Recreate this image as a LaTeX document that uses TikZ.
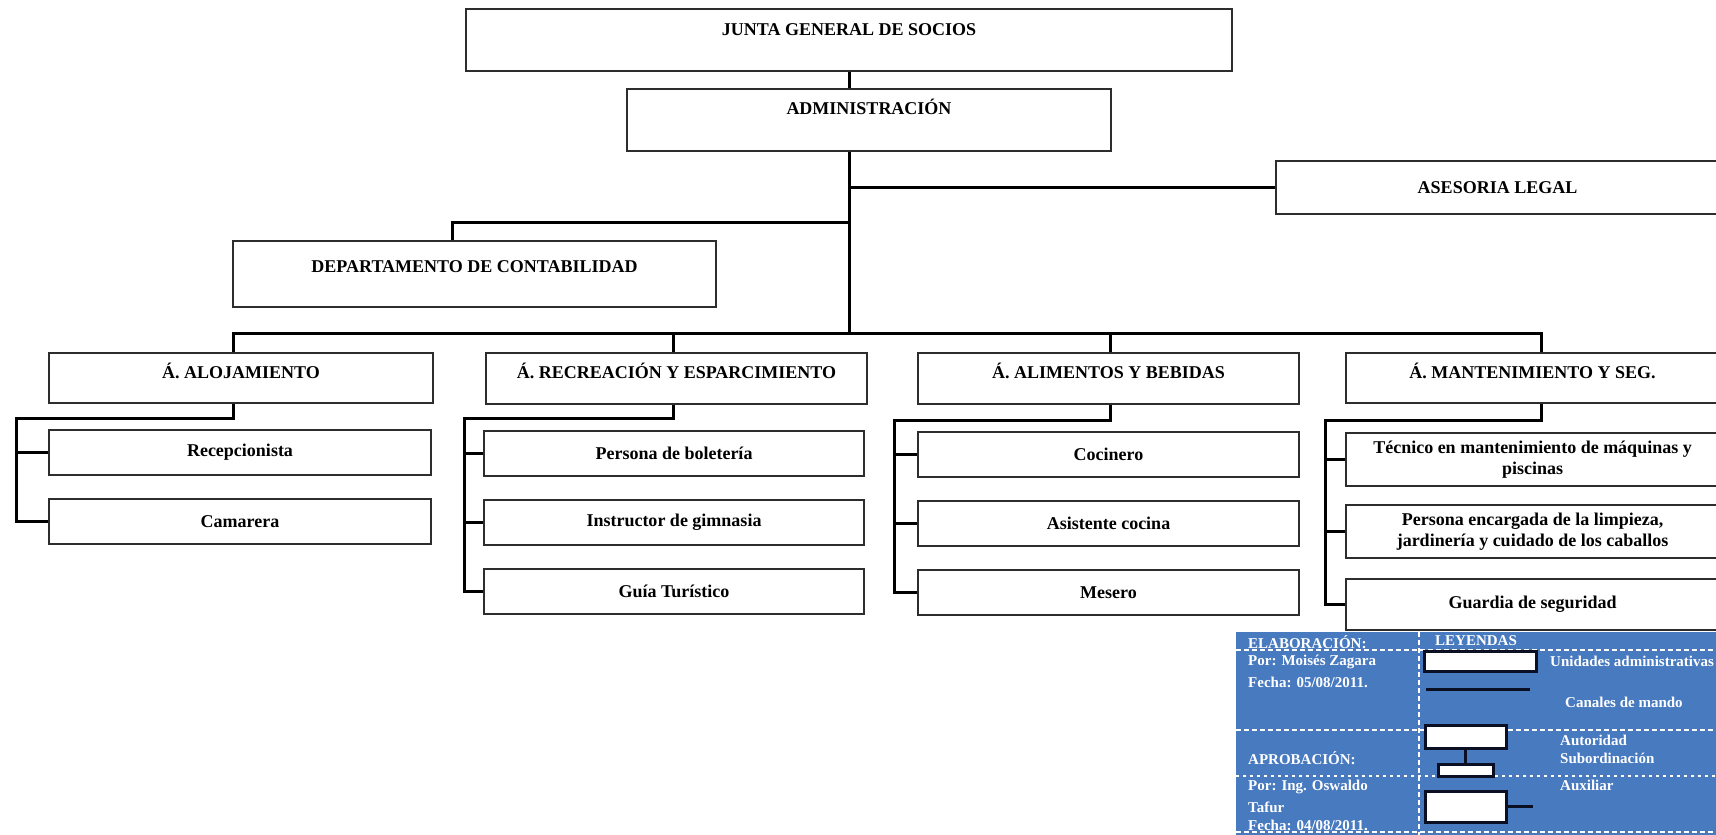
\documentclass[tikz,border=0pt]{standalone}
\usepackage{fontspec}
\setmainfont{Liberation Serif}
\usepackage{tikz}
\usetikzlibrary{positioning, calc}
\definecolor{boxline}{RGB}{45,45,45}
\definecolor{legblue}{RGB}{72,122,192}
\definecolor{legline}{RGB}{10,15,35}
\tikzset{
  box/.style={rectangle, draw=boxline, fill=white, line width=2pt,
    inner xsep=4pt, align=center, font=\fontsize{18}{21}\selectfont\bfseries},
  titlebox/.style={box, anchor=north west, inner ysep=0pt, text height=25pt},
  subbox/.style={box, minimum height=45pt},
  link/.style={line width=3pt, color=black},
  legtext/.style={anchor=west, inner sep=0pt, text=white,
    font=\fontsize{15}{17}\selectfont\bfseries},
  legbox/.style={rectangle, draw=legline, fill=white, line width=2.5pt,
    anchor=north west, inner sep=0pt},
  legdash/.style={white, line width=1.5pt, dash pattern=on 5pt off 3pt}
}

\begin{document}
\begin{tikzpicture}[x=1pt, y=-1pt]
  \useasboundingbox (0,0) rectangle (1716,835);

  % Top of the chart
  \node[titlebox, minimum width=766pt, text height=26pt, text depth=36pt] (junta) at (465,8) {JUNTA GENERAL DE SOCIOS};
  \node[titlebox, minimum width=484pt, text depth=37pt] (admin) at (626,88) {ADMINISTRACIÓN};
  \node[titlebox, minimum width=443pt, text height=32pt, text depth=21pt] (asesoria) at (1275,160) {ASESORIA LEGAL};
  \node[titlebox, minimum width=483pt, text height=31pt, text depth=35pt] (contab) at (232,240) {DEPARTAMENTO DE CONTABILIDAD};

  % Areas
  \node[titlebox, minimum width=384pt, text depth=25pt] (aloj) at (48,352) {Á. ALOJAMIENTO};
  \node[titlebox, minimum width=381pt, text depth=26pt] (recre) at (485,352) {Á. RECREACIÓN Y ESPARCIMIENTO};
  \node[titlebox, minimum width=381pt, text depth=26pt] (alim) at (917,352) {Á. ALIMENTOS Y BEBIDAS};
  \node[titlebox, minimum width=373pt, text depth=25pt] (mant) at (1345,352) {Á. MANTENIMIENTO Y SEG.};

  % Staff
  \node[subbox, anchor=north west, minimum width=382pt] (recep) at (48,429) {Recepcionista};
  \node[subbox, minimum width=382pt, below=22pt of recep] (camarera) {Camarera};

  \node[subbox, anchor=north west, minimum width=380pt] (boleteria) at (483,430) {Persona de boletería};
  \node[subbox, minimum width=380pt, below=22pt of boleteria] (instructor) {Instructor de gimnasia};
  \node[subbox, minimum width=380pt, below=22pt of instructor] (guia) {Guía Turístico};

  \node[subbox, anchor=north west, minimum width=381pt] (cocinero) at (917,431) {Cocinero};
  \node[subbox, minimum width=381pt, below=22pt of cocinero] (asistente) {Asistente cocina};
  \node[subbox, minimum width=381pt, below=22pt of asistente] (mesero) {Mesero};

  \node[subbox, anchor=north west, minimum width=373pt, minimum height=53pt] (tecnico) at (1345,432) {Técnico en mantenimiento de máquinas y\\piscinas};
  \node[subbox, minimum width=373pt, minimum height=53pt, below=17pt of tecnico] (limpieza) {Persona encargada de la limpieza,\\jardinería y cuidado de los caballos};
  \node[subbox, minimum width=373pt, minimum height=51pt, below=19pt of limpieza] (guardia) {Guardia de seguridad};

  % Lines of command
  \coordinate (bus) at (junta.south |- 0,333);
  \coordinate (contabhook) at (452,222);
  \draw[link] (junta.south) -- (junta.south |- admin.north);
  \draw[link] (junta.south |- admin.south) -- (bus);
  \draw[link] (junta.south |- asesoria.west) -- (asesoria.west);
  \draw[link] (junta.south |- contabhook) -- (contabhook) -- (contabhook |- contab.north);
  \draw[link] ([xshift=-8pt]aloj.north) |- (bus);
  \draw[link] ([xshift=-3pt]recre.north) |- (bus);
  \draw[link] ([xshift=2pt]alim.north) |- (bus);
  \draw[link] ([xshift=9pt]mant.north) |- (bus);

  \coordinate (alojbar) at (16,418);
  \draw[link] ([xshift=-8pt]aloj.south) |- (alojbar) |- (camarera.west);
  \draw[link] (alojbar |- recep.west) -- (recep.west);

  \coordinate (recrebar) at (464,418);
  \draw[link] ([xshift=-3pt]recre.south) |- (recrebar) |- (guia.west);
  \draw[link] (recrebar |- boleteria.west) -- (boleteria.west);
  \draw[link] (recrebar |- instructor.west) -- (instructor.west);

  \coordinate (alimbar) at (894,420);
  \draw[link] ([xshift=2pt]alim.south) |- (alimbar) |- (mesero.west);
  \draw[link] (alimbar |- cocinero.west) -- (cocinero.west);
  \draw[link] (alimbar |- asistente.west) -- (asistente.west);

  \coordinate (mantbar) at (1325,420);
  \draw[link] ([xshift=9pt]mant.south) |- (mantbar) |- (guardia.west);
  \draw[link] (mantbar |- tecnico.west) -- (tecnico.west);
  \draw[link] (mantbar |- limpieza.west) -- (limpieza.west);

  % Legend
  \fill[legblue] (1236,632) rectangle (1716,835);
  \draw[legdash] (1419,632) -- (1419,835);
  \draw[legdash] (1236,650) -- (1716,650);
  \draw[legdash] (1236,730) -- (1716,730);
  \draw[legdash, line width=2pt, dash pattern=on 3pt off 4pt] (1236,776) -- (1716,776);
  \draw[legdash] (1236,832) -- (1716,832);

  \node[legtext] (elab) at (1248,642) {ELABORACIÓN:};
  \node[legtext] (elabpor) at (1248,662) {Por: Moisés Zagara};
  \node[legtext] (elabfecha) at (1248,682) {Fecha: 05/08/2011.};
  \node[legtext] (aprob) at (1248,758) {APROBACIÓN:};
  \node[legtext] (aprobpor) at (1248,787) {Por: Ing. Oswaldo};
  \node[legtext] (aprobpor2) at (1248,807) {Tafur};
  \node[legtext] (aprobfecha) at (1248,825) {Fecha: 04/08/2011.};
  \node[legtext] (leyendas) at (1435,641) {LEYENDAS};
  \node[legtext] (unidades) at (1550,661) {Unidades administrativas};
  \node[legtext] (canales) at (1565,702) {Canales de mando};
  \node[legtext] (autoridad) at (1560,740) {Autoridad};
  \node[legtext] (subord) at (1560,758) {Subordinación};
  \node[legtext] (auxiliar) at (1560,785) {Auxiliar};

  \node[legbox, minimum width=112pt, minimum height=20pt] (legunit) at (1423,650) {};
  \coordinate (chanA) at (1426,689);
  \coordinate (chanB) at (1530,689);
  \draw[legline, line width=3pt] (chanA) -- (chanB);
  \node[legbox, minimum width=81pt, minimum height=23pt] (legauth) at (1424,724) {};
  \node[legbox, minimum width=55pt, minimum height=12pt] (legsub) at (1437,763) {};
  \draw[legline, line width=3pt] (legauth.south) -- (legsub.north);
  \node[legbox, minimum width=81pt, minimum height=31pt] (legaux) at (1424,790) {};
  \coordinate (auxend) at ([xshift=25pt]legaux.east);
  \draw[legline, line width=3pt] (legaux.east) -- (auxend);
\end{tikzpicture}
\end{document}
